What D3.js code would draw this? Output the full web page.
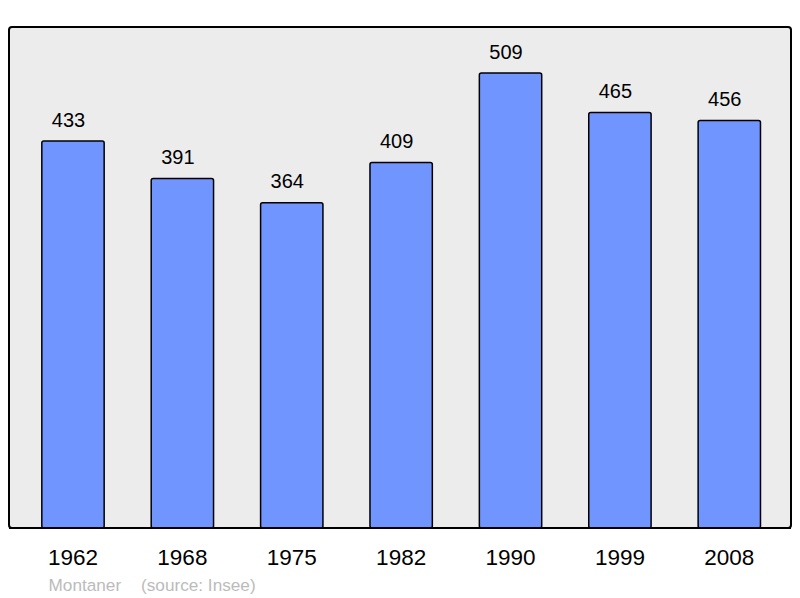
<!DOCTYPE html>
<html><head><meta charset="utf-8">
<script src="https://cdn.jsdelivr.net/npm/d3@7"></script>
<style>html,body{margin:0;padding:0;background:#fff;}svg{display:block;}</style>
</head><body>
<svg id="c" width="800" height="598"></svg>
<script>
const years = ["1962","1968","1975","1982","1990","1999","2008"];
const population = [433,391,364,409,509,465,456];
const credit = "Montaner";
const source = "(source: Insee)";

const svg = d3.select("#c");
const font = "'Liberation Sans', Arial, sans-serif";
const baseY = 528;
const x = d3.scaleBand().domain(years).range([18.3, 784]).paddingInner(0.43).paddingOuter(0.215);
const y = d3.scaleLinear().domain([0, 433]).range([baseY, 141]);

svg.append("rect").attr("x", 9).attr("y", 27).attr("width", 782).attr("height", 501)
  .attr("rx", 3).attr("fill", "#ececec").attr("stroke", "#000").attr("stroke-width", 2);

const g = svg.append("g");
g.selectAll("rect.bar").data(years).join("rect").attr("class","bar")
  .attr("x", d => x(d)).attr("width", x.bandwidth())
  .attr("y", (d,i) => y(population[i])).attr("height", (d,i) => baseY - y(population[i]))
  .attr("rx", 2).attr("fill", "#7095ff").attr("stroke", "#000").attr("stroke-width", 1.5);

g.selectAll("text.val").data(years).join("text").attr("class","val")
  .attr("x", d => x(d) + x.bandwidth()/2 - 4.5).attr("y", (d,i) => y(population[i]) - 14.5)
  .attr("text-anchor", "middle").attr("font-family", font).attr("font-size", 20).attr("fill", "#000")
  .text((d,i) => population[i]);

svg.append("line").attr("x1", 9).attr("x2", 791).attr("y1", baseY).attr("y2", baseY)
  .attr("stroke", "#000").attr("stroke-width", 2);

const axis = d3.axisBottom(x).tickSize(0).tickPadding(0);
const ax = svg.append("g").attr("transform", `translate(0,${baseY})`).call(axis);
ax.select(".domain").remove();
ax.selectAll("text").attr("font-family", font).attr("font-size", 22.5).attr("fill", "#000")
  .attr("dy", null).attr("y", 37);

svg.append("text").attr("x", 48.5).attr("y", 590.5).attr("font-family", font).attr("font-size", 17.2)
  .attr("fill", "#bbb").text(credit);
svg.append("text").attr("x", 141).attr("y", 590.5).attr("font-family", font).attr("font-size", 17.2)
  .attr("fill", "#bbb").text(source);
</script>
</body></html>
